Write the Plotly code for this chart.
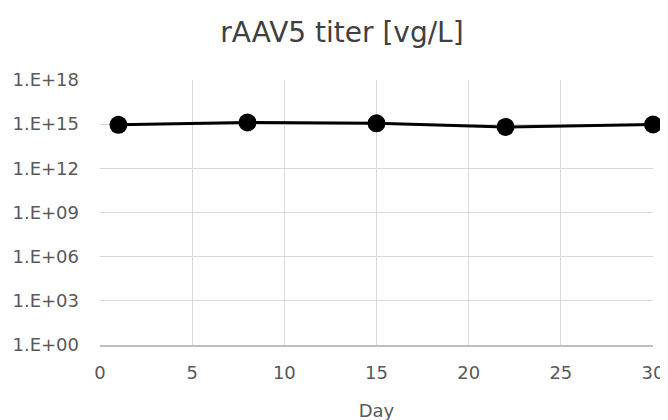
import plotly.graph_objects as go

days = [1, 8, 15, 22, 30]
titer = [9.0e14, 1.3e15, 1.15e15, 6.5e14, 9.5e14]
ytick_vals = [1e0, 1e3, 1e6, 1e9, 1e12, 1e15, 1e18]
ytick_text = ["1.E+00", "1.E+03", "1.E+06", "1.E+09", "1.E+12", "1.E+15", "1.E+18"]
xtick_vals = [0, 5, 10, 15, 20, 25, 30]

font_family = "DejaVu Sans"
text_color = "#595959"

fig = go.Figure()
fig.add_trace(go.Scatter(
    x=days, y=titer, mode="lines+markers",
    line=dict(color="black", width=3),
    marker=dict(color="black", size=18),
    showlegend=False, cliponaxis=False,
))

fig.update_layout(
    width=668, height=420,
    margin=dict(l=92, r=23, t=72, b=83),
    paper_bgcolor="white", plot_bgcolor="white",
    title=dict(text="rAAV5 titer [vg/L]", x=0.5, xanchor="center", y=0.943, yanchor="middle",
               font=dict(family=font_family, size=28, color="#404040")),
    font=dict(family=font_family, color=text_color),
)
fig.update_xaxes(
    range=[0, 30], tickvals=xtick_vals, showgrid=True, gridcolor="#d9d9d9", gridwidth=1,
    showline=True, linecolor="#bfbfbf", linewidth=1.5, zeroline=False, automargin=False,
    ticks="", tickfont=dict(size=18, color=text_color), ticklabelstandoff=11,
    title=dict(text="Day", font=dict(size=18, color=text_color), standoff=22),
)
fig.update_yaxes(
    type="log", range=[0, 18], tickvals=ytick_vals, ticktext=ytick_text,
    showgrid=True, gridcolor="#d9d9d9", gridwidth=1, zeroline=False, showline=False,
    automargin=False,
    ticks="", tickfont=dict(size=18, color=text_color), ticklabelstandoff=20,
)

fig.write_html("out.html")
